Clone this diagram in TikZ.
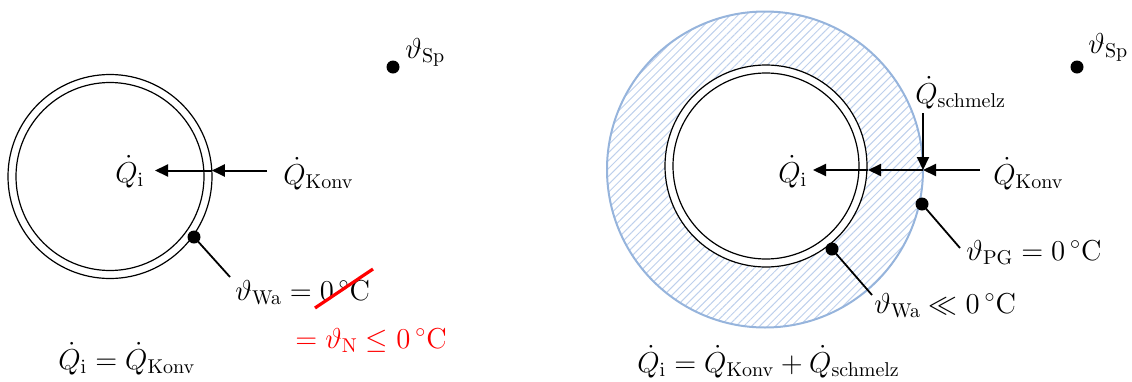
\documentclass[tikz,border=0pt]{standalone}
\usepackage{amsmath,amssymb}
\usetikzlibrary{arrows.meta,patterns.meta}
\definecolor{ringblue}{RGB}{150,180,220}
\definecolor{hatchblue}{RGB}{190,208,236}
\tikzset{
  lbl/.style={inner sep=0pt, anchor=base west},
  dot/.style={circle, fill=black, inner sep=0pt, minimum size=6.5pt},
  flow/.style={line width=1pt, -{Triangle[length=6.5pt,width=6pt]}},
  lead/.style={line width=0.9pt},
  ring/.style={circle, draw, line width=0.6pt, inner sep=0pt},
}
\newcommand{\degC}{0\,{}^{\circ}\mathrm{C}}
\begin{document}
\begin{tikzpicture}[x=0.5pt,y=-0.5pt,font=\fontsize{14.4}{17}\selectfont]
\useasboundingbox (0,0) rectangle (1132,381);

% ---------------- left picture ----------------
\node[ring, minimum size=102pt] (Lout) at (110,176.5) {};
\node[ring, minimum size=94pt] (Lin) at (110,176.5) {};

\coordinate (La0) at (267,170.5);
\coordinate (La1) at (211.8,170.5);
\coordinate (La2) at (155,170.5);
\draw[flow] (La0) -- (La1);
\draw[flow] (La1) -- (La2);

\node[lbl] (LQi) at (115,182) {$\dot{Q}_{\mathrm{i}}$};
\node[lbl] (LQk) at (283,184) {$\dot{Q}_{\mathrm{Konv}}$};

\node[dot] (LdWa) at (194,237) {};
\node[lbl] (LWa) at (235,300) {$\vartheta_{\mathrm{Wa}} = \degC$};
\draw[lead] (LdWa.center) -- (230,277);
\draw[red, line width=1.6pt] (315,308) -- (373,269);
\node[lbl, text=red] (LN) at (295,348) {$= \vartheta_{\mathrm{N}} \leq \degC$};

\node[lbl] (Leq) at (58,369) {$\dot{Q}_{\mathrm{i}} = \dot{Q}_{\mathrm{Konv}}$};

\node[dot] (LdSp) at (393,67) {};
\node[lbl] (LSp) at (405,58) {$\vartheta_{\mathrm{Sp}}$};

% ---------------- right picture ----------------
\fill[pattern={Lines[angle=45,distance=2.8pt,line width=0.5pt]}, pattern color=hatchblue]
  (765,169.5) circle (158);
\node[circle, draw=ringblue, line width=1pt, inner sep=0pt, minimum size=158pt] (Rblue) at (765,169.5) {};
\node[ring, fill=white, minimum size=101pt] (Rout) at (766,166) {};
\node[ring, minimum size=93pt] (Rin) at (766,166) {};

\coordinate (Ra0) at (980,170);
\coordinate (Ra1) at (923,170);
\coordinate (Ra2) at (868,170);
\coordinate (Ra3) at (813,170);
\coordinate (Rs0) at (923,113);
\draw[flow] (Ra0) -- (Ra1);
\draw[flow] (Ra1) -- (Ra2);
\draw[flow] (Ra2) -- (Ra3);
\draw[flow] (Rs0) -- (Ra1);

\node[lbl] (RQi) at (778,182) {$\dot{Q}_{\mathrm{i}}$};
\node[lbl] (RQk) at (993,184) {$\dot{Q}_{\mathrm{Konv}}$};
\node[lbl] (RQs) at (915,103) {$\dot{Q}_{\mathrm{schmelz}}$};

\node[dot] (RdPG) at (922,204) {};
\node[lbl] (RPG) at (966,260) {$\vartheta_{\mathrm{PG}} = \degC$};
\draw[lead] (RdPG.center) -- (960,248);

\node[dot] (RdWa) at (832,249) {};
\node[lbl] (RWa) at (874,313) {$\vartheta_{\mathrm{Wa}} \ll \degC$};
\draw[lead] (RdWa.center) -- (872,295);

\node[lbl] (Req) at (637,372) {$\dot{Q}_{\mathrm{i}} = \dot{Q}_{\mathrm{Konv}} + \dot{Q}_{\mathrm{schmelz}}$};

\node[dot] (RdSp) at (1077,67) {};
\node[lbl] (RSp) at (1088,53) {$\vartheta_{\mathrm{Sp}}$};
\end{tikzpicture}
\end{document}
